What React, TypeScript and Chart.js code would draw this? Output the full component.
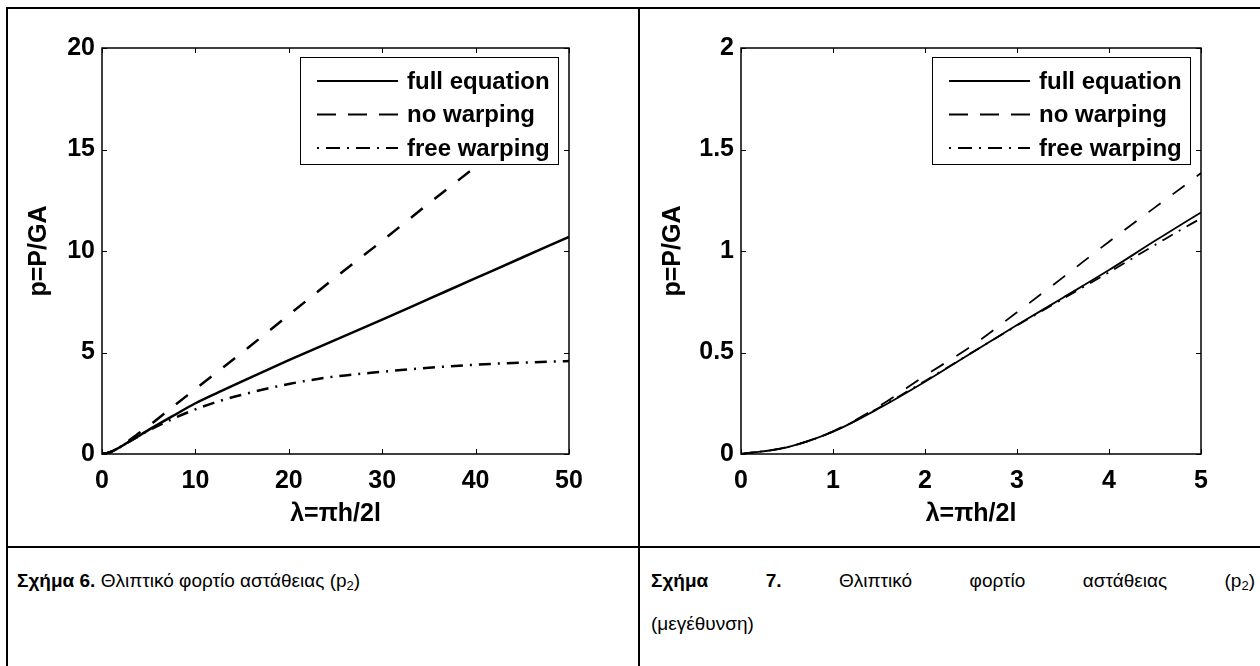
import React, { useEffect, useRef } from "react";
import { Chart, registerables } from "chart.js";

Chart.register(...registerables);

// λ values (shared by both figures; the second figure is a zoom of the first)
const lambda = [0, 0.5, 1, 1.5, 2, 2.5, 3, 3.5, 4, 4.5, 5, 7.5, 10, 12.5, 15, 20, 25, 30, 35, 40, 45, 50];
const fullEquation = [0, 0.033, 0.11, 0.225, 0.356, 0.496, 0.635, 0.77, 0.906, 1.05, 1.19, 1.85, 2.5, 3.05, 3.58, 4.62, 5.62, 6.62, 7.64, 8.66, 9.68, 10.7];
const noWarping = [0, 0.034, 0.112, 0.235, 0.386, 0.53, 0.698, 0.87, 1.046, 1.215, 1.384, 2.3, 3.2, 4.1, 5.0, 6.85, 8.7, 10.5, 12.35, 14.15, 15.95, null];
const freeWarping = [0, 0.033, 0.11, 0.228, 0.36, 0.497, 0.633, 0.765, 0.895, 1.03, 1.16, 1.72, 2.2, 2.6, 2.92, 3.45, 3.82, 4.05, 4.25, 4.4, 4.5, 4.58];

const seriesLabels = ["full equation", "no warping", "free warping"];

const xTitle = "λ=πh/2l";
const yTitle = "p=P/GA";

const FONT = '"Liberation Sans", Arial, Helvetica, sans-serif';

const dataDash = [[], [15, 15], [12, 7, 2, 7]];
const legendDash = [[], [19, 12], [2, 7, 14, 7]];

const frameTicks = {
  id: "frameTicks",
  afterDatasetsDraw(chart: any) {
    const { ctx, chartArea } = chart;
    const { left, right, top, bottom } = chartArea;
    const xs = chart.scales.x;
    const ys = chart.scales.y;
    const tl = 5;
    ctx.save();
    ctx.strokeStyle = "#000";
    ctx.lineWidth = 1;
    ctx.setLineDash([]);
    ctx.beginPath();
    xs.ticks.forEach((t: any) => {
      const px = Math.round(xs.getPixelForValue(t.value)) + 0.5;
      ctx.moveTo(px, bottom);
      ctx.lineTo(px, bottom - tl);
      ctx.moveTo(px, top);
      ctx.lineTo(px, top + tl);
    });
    ys.ticks.forEach((t: any) => {
      const py = Math.round(ys.getPixelForValue(t.value)) + 0.5;
      ctx.moveTo(left, py);
      ctx.lineTo(left + tl, py);
      ctx.moveTo(right, py);
      ctx.lineTo(right - tl, py);
    });
    ctx.stroke();
    ctx.lineWidth = 1.5;
    ctx.strokeRect(Math.round(left), Math.round(top), Math.round(right - left), Math.round(bottom - top));
    ctx.restore();
  },
};

const boxLegend = {
  id: "boxLegend",
  afterDatasetsDraw(chart: any) {
    const { ctx, chartArea } = chart;
    const w = 258;
    const h = 107;
    const bx = Math.round(chartArea.right - 11 - w);
    const by = Math.round(chartArea.top + 9);
    ctx.save();
    ctx.fillStyle = "#fff";
    ctx.fillRect(bx, by, w, h);
    ctx.strokeStyle = "#000";
    ctx.lineWidth = 1;
    ctx.setLineDash([]);
    ctx.strokeRect(bx + 0.5, by + 0.5, w, h);
    chart.data.datasets.forEach((ds: any, i: number) => {
      const yy = by + 24 + i * 33.5;
      ctx.setLineDash(legendDash[i]);
      ctx.lineWidth = 2;
      ctx.beginPath();
      ctx.moveTo(bx + 17, yy);
      ctx.lineTo(bx + 98, yy);
      ctx.stroke();
      ctx.setLineDash([]);
      ctx.font = `bold 24px ${FONT}`;
      ctx.fillStyle = "#000";
      ctx.textBaseline = "middle";
      ctx.textAlign = "left";
      ctx.fillText(ds.label, bx + 107, yy + 1);
    });
    ctx.restore();
  },
};

type PlotProps = {
  width: number;
  height: number;
  plotLeft: number;
  plotTop: number;
  plotRight: number;
  plotBottom: number;
  xMax: number;
  xStep: number;
  yMax: number;
  yStep: number;
  lineWidth: number;
  yTitlePad: number;
};

function Plot(p: PlotProps) {
  const ref = useRef<HTMLCanvasElement | null>(null);
  useEffect(() => {
    if (!ref.current) return;
    const series = [fullEquation, noWarping, freeWarping];
    const chart = new Chart(ref.current, {
      type: "line",
      data: {
        datasets: series.map((s, i) => ({
          label: seriesLabels[i],
          data: lambda.map((l, k) => ({ x: l, y: s[k] })),
          borderColor: "#000",
          backgroundColor: "#000",
          borderWidth: p.lineWidth,
          borderDash: dataDash[i],
          pointRadius: 0,
          fill: false,
          spanGaps: false,
          cubicInterpolationMode: "monotone",
        })),
      },
      options: {
        animation: false,
        responsive: false,
        maintainAspectRatio: false,
        events: [],
        layout: {
          padding: { left: 0, top: p.plotTop, right: p.width - p.plotRight, bottom: 0 },
        },
        plugins: {
          legend: { display: false },
          tooltip: { enabled: false },
        },
        scales: {
          x: {
            type: "linear",
            min: 0,
            max: p.xMax,
            ticks: {
              stepSize: p.xStep,
              autoSkip: false,
              maxRotation: 0,
              color: "#000",
              padding: 12,
              font: { family: FONT, size: 25, weight: "bold" },
              callback: (v: any) => String(Number(v)),
            },
            grid: { display: false, drawTicks: false },
            border: { display: false },
            title: {
              display: true,
              text: xTitle,
              color: "#000",
              font: { family: FONT, size: 25, weight: "bold" },
              padding: { top: 0, bottom: 17 },
            },
            afterFit: (s: any) => {
              s.height = p.height - p.plotBottom;
            },
          },
          y: {
            type: "linear",
            min: 0,
            max: p.yMax,
            ticks: {
              stepSize: p.yStep,
              autoSkip: false,
              color: "#000",
              padding: 7,
              font: { family: FONT, size: 25, weight: "bold" },
              callback: (v: any) => String(Number(v)),
            },
            grid: { display: false, drawTicks: false },
            border: { display: false },
            title: {
              display: true,
              text: yTitle,
              color: "#000",
              font: { family: FONT, size: 25, weight: "bold" },
              padding: { top: p.yTitlePad, bottom: 0 },
            },
            afterFit: (s: any) => {
              s.width = p.plotLeft;
            },
          },
        },
      } as any,
      plugins: [frameTicks, boxLegend],
    });
    return () => chart.destroy();
  }, []);
  return (
    <canvas
      ref={ref}
      width={p.width}
      height={p.height}
      style={{ width: p.width, height: p.height, display: "block" }}
    />
  );
}

const line = (l: number, t: number, w: number, h: number): React.CSSProperties => ({
  position: "absolute",
  left: l,
  top: t,
  width: w,
  height: h,
  background: "#000",
});

export default function App() {
  const capStyle: React.CSSProperties = {
    position: "absolute",
    fontFamily: FONT,
    fontSize: 19,
    lineHeight: "22px",
    color: "#000",
    whiteSpace: "nowrap",
  };
  const subStyle: React.CSSProperties = { fontSize: 13, verticalAlign: "-3px", lineHeight: 0 };
  return (
    <div
      style={{
        position: "absolute",
        left: 0,
        top: 0,
        width: 1260,
        height: 666,
        overflow: "hidden",
        background: "#fff",
      }}
    >
      <div style={{ position: "absolute", left: 8, top: 9 }}>
        <Plot
          width={630}
          height={537}
          plotLeft={94}
          plotTop={39}
          plotRight={561}
          plotBottom={445}
          xMax={50}
          xStep={10}
          yMax={20}
          yStep={5}
          lineWidth={2.5}
          yTitlePad={16}
        />
      </div>
      <div style={{ position: "absolute", left: 640, top: 9 }}>
        <Plot
          width={620}
          height={537}
          plotLeft={101}
          plotTop={39}
          plotRight={561}
          plotBottom={445}
          xMax={5}
          xStep={1}
          yMax={2}
          yStep={0.5}
          lineWidth={1.8}
          yTitlePad={18}
        />
      </div>

      <div style={line(6, 7, 1260, 2)} />
      <div style={line(6, 7, 2, 660)} />
      <div style={line(638, 7, 2, 660)} />
      <div style={line(6, 546, 1260, 2)} />

      <div style={{ ...capStyle, left: 17, top: 570 }}>
        <b>Σχήμα 6.</b> Θλιπτικό φορτίο αστάθειας (p<span style={subStyle}>2</span>)
      </div>
      <div
        style={{
          ...capStyle,
          left: 651,
          top: 570,
          width: 604,
          whiteSpace: "normal",
          textAlign: "justify",
          textAlignLast: "justify",
        }}
      >
        <b>Σχήμα 7.</b> Θλιπτικό φορτίο αστάθειας (p<span style={subStyle}>2</span>)
      </div>
      <div style={{ ...capStyle, left: 651, top: 613 }}>(μεγέθυνση)</div>
    </div>
  );
}
